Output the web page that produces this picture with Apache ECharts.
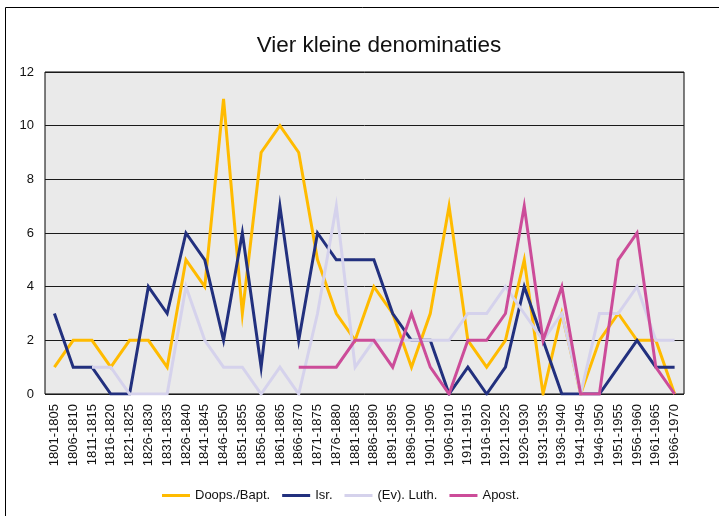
<!DOCTYPE html>
<html>
<head>
<meta charset="utf-8">
<script src="https://cdn.jsdelivr.net/npm/echarts@6/dist/echarts.min.js"></script>
<style>
  html, body { margin: 0; padding: 0; background: #fff; }
  #chart { width: 719px; height: 516px; }
</style>
</head>
<body>
<div id="chart"></div>
<script>
// periods (the "1826-1840" typo is in the original)
const periods = [
  "1801-1805", "1806-1810", "1811-1815", "1816-1820", "1821-1825", "1826-1830",
  "1831-1835", "1826-1840", "1841-1845", "1846-1850", "1851-1855", "1856-1860",
  "1861-1865", "1866-1870", "1871-1875", "1876-1880", "1881-1885", "1886-1890",
  "1891-1895", "1896-1900", "1901-1905", "1906-1910", "1911-1915", "1916-1920",
  "1921-1925", "1926-1930", "1931-1935", "1936-1940", "1941-1945", "1946-1950",
  "1951-1955", "1956-1960", "1961-1965", "1966-1970"
];

const doopsBapt = [1, 2, 2, 1, 2, 2, 1, 5, 4, 11, 3, 9, 10, 9, 5, 3, 2, 4, 3, 1, 3, 7, 2, 1, 2, 5, 0, 3, 0, 2, 3, 2, 2, 0];
const isr = [3, 1, 1, 0, 0, 4, 3, 6, 5, 2, 6, 1, 7, 2, 6, 5, 5, 5, 3, 2, 2, 0, 1, 0, 1, 4, 2, 0, 0, 0, 1, 2, 1, 1];
const evLuth = [null, null, 1, 1, 0, 0, 0, 4, 2, 1, 1, 0, 1, 0, 3, 7, 1, 2, 2, 2, 2, 2, 3, 3, 4, 3, 2, 3, 0, 3, 3, 4, 2, 2];
const apost = [null, null, null, null, null, null, null, null, null, null, null, null, null, 1, 1, 1, 2, 2, 1, 3, 1, 0, 2, 2, 3, 7, 2, 4, 0, 0, 5, 6, 1, 0];

const seriesNames = ["Doops./Bapt.", "Isr.", "(Ev). Luth.", "Apost."];
const seriesColors = ["#FFBB00", "#22307E", "#D5D2EC", "#CC4C99"];
const seriesData = [doopsBapt, isr, evLuth, apost];

const font = "'Liberation Sans', Arial, sans-serif";

const chart = echarts.init(document.getElementById("chart"), null, { renderer: "canvas" });

chart.setOption({
  animation: false,
  backgroundColor: "#fff",
  title: {
    text: "Vier kleine denominaties",
    left: 374,
    top: 29,
    textAlign: "center",
    textStyle: { fontFamily: font, fontSize: 22.5, fontWeight: "normal", color: "#111" }
  },
  graphic: [{
    type: "rect",
    shape: { x: 5.5, y: 7.5, width: 800, height: 600 },
    style: { fill: null, stroke: "#000", lineWidth: 1 },
    silent: true
  }],
  legend: {
    left: 157,
    top: 484,
    icon: "rect",
    itemWidth: 28,
    itemHeight: 3,
    itemGap: 12,
    textStyle: { fontFamily: font, fontSize: 13, color: "#111" },
    data: seriesNames
  },
  grid: { left: 45, top: 72, width: 639, height: 322, show: true, backgroundColor: "#EAEAEA", borderColor: "#000", borderWidth: 1 },
  xAxis: {
    type: "category",
    data: periods,
    boundaryGap: true,
    axisLine: { show: false },
    axisTick: { show: false },
    axisLabel: { interval: 0, rotate: 90, fontFamily: font, fontSize: 13, color: "#111", margin: 10 }
  },
  yAxis: {
    type: "value",
    min: 0,
    max: 12,
    interval: 2,
    axisLine: { show: false },
    axisTick: { show: false },
    axisLabel: { fontFamily: font, fontSize: 13, color: "#111", margin: 11 },
    splitLine: { show: true, lineStyle: { color: "#1a1a1a", width: 1 } }
  },
  series: seriesNames.map((name, i) => ({
    name: name,
    type: "line",
    data: seriesData[i],
    symbol: "none",
    color: seriesColors[i],
    lineStyle: { width: 3, color: seriesColors[i], join: "miter", miterLimit: 10 }
  }))
});
</script>
</body>
</html>
